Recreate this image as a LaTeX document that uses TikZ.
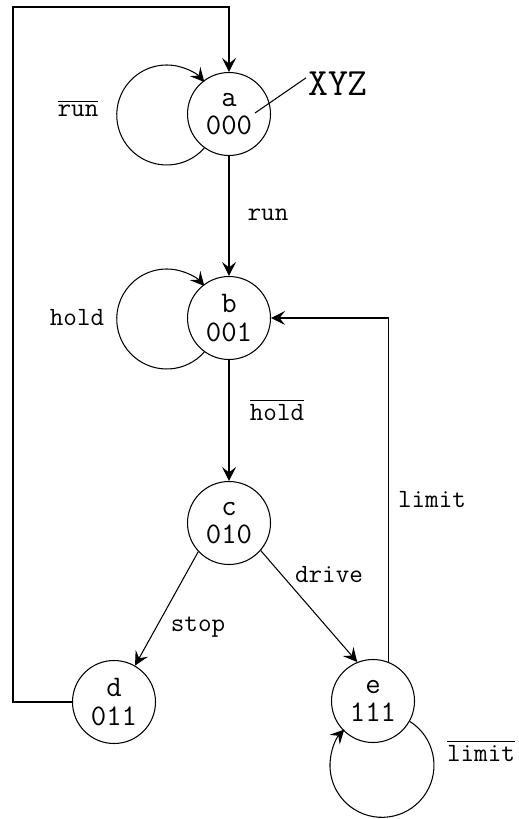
\documentclass[tikz,border=0pt]{standalone}
\usepackage{amsmath}
\usetikzlibrary{arrows.meta, positioning}
\newcommand{\nbar}[1]{$\overline{\mbox{#1}}$}

\tikzset{
	state/.style={circle, draw, semithick, minimum size=1.66cm, inner sep=0pt, align=center, font=\fontsize{17}{16}\selectfont\ttfamily},
	lbl/.style={font=\fontsize{15}{16}\selectfont\ttfamily},
	tr/.style={semithick, -{Stealth[length=2.8mm, width=2.8mm, inset=1.1mm]}},
}

\begin{document}
\begin{tikzpicture}
	\useasboundingbox (0,0) rectangle (10.36,-16.38);
	% states
	\node[state] (a) at (4.58,-2.28) {a\\000};
	\node[state] (b) at (4.58,-6.36) {b\\001};
	\node[state] (c) at (4.58,-10.46) {c\\010};
	\node[state] (d) at (2.28,-14.04) {d\\011};
	\node[state] (e) at (7.46,-14.02) {e\\111};

	% self loops
	\draw[tr] (a.234) arc[start angle=-41.3, end angle=-318.7, radius=1cm];
	\draw[tr] (b.234) arc[start angle=-41.3, end angle=-318.7, radius=1cm];
	\draw[tr] (e.-29) arc[start angle=57.7, end angle=-223.5, radius=1.04cm];

	% transitions
	\draw[tr] (a) -- (b);
	\draw[tr] (b) -- (c);
	\draw[tr] (c.223) -- (d.60);
	\draw[tr] (c.-41) -- (e.112);
	\draw[tr] (e.68) |- (b);
	\coordinate (back) at (0.26,-0.14);
	\draw[tr] (d.west) -| (back) -| (a);

	% labels
	\node[lbl] (lrunbar) at (1.56,-2.16) {\nbar{run}};
	\node[lbl] (lhold) at (1.54,-6.36) {hold};
	\node[lbl] (lrun) at (5.36,-4.30) {run};
	\node[lbl] (lholdbar) at (5.54,-8.20) {\nbar{hold}};
	\node[lbl] (lstop) at (3.96,-12.54) {stop};
	\node[lbl] (ldrive) at (6.58,-11.50) {drive};
	\node[lbl] (llimit) at (8.64,-10.00) {limit};
	\node[lbl, anchor=east, inner sep=1pt] (llimitbar) at (10.34,-15.02) {\nbar{limit}};

	% output bits
	\coordinate (pin) at (5.10,-2.26);
	\node[anchor=west, inner sep=1pt, font=\fontsize{22}{22}\selectfont\ttfamily] (xyz) at (6.12,-1.67) {XYZ};
	\draw[semithick] (pin) -- (xyz.170);
\end{tikzpicture}
\end{document}
